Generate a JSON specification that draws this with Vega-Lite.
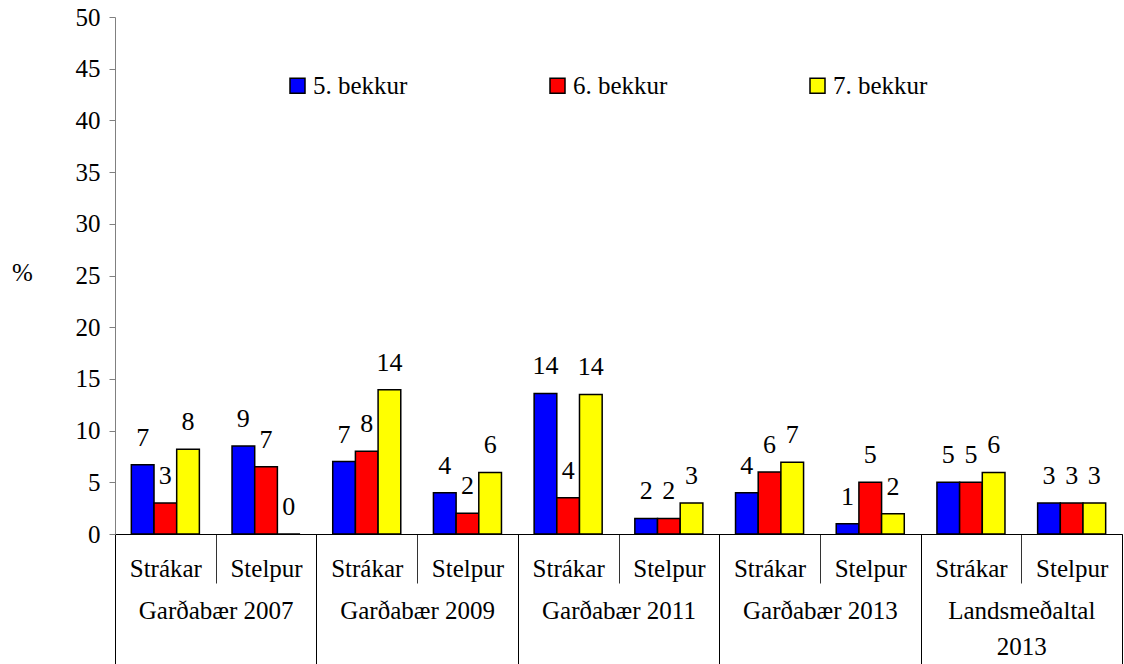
{
  "$schema": "https://vega.github.io/schema/vega-lite/v6.json",
  "width": 1007,
  "height": 517,
  "autosize": "none",
  "padding": {"left": 115, "top": 17, "right": 2, "bottom": 130},
  "background": "white",
  "config": {
    "font": "Times New Roman, Liberation Serif, serif",
    "view": {"stroke": null},
    "text": {"font": "Times New Roman, Liberation Serif, serif"},
    "axis": {"grid": false, "labelFont": "Times New Roman, Liberation Serif, serif", "titleFont": "Times New Roman, Liberation Serif, serif", "labelFontSize": 25, "labelColor": "black", "titleFontSize": 25, "titleFontWeight": "normal", "titleColor": "black"},
    "legend": {"labelFont": "Times New Roman, Liberation Serif, serif"}
  },
  "data": {
    "values": [
      {"group": "Garðabær 2007", "sub": "Strákar", "cat": "Garðabær 2007|Strákar", "grade": "5. bekkur", "value": 6.7, "label": "7"},
      {"group": "Garðabær 2007", "sub": "Strákar", "cat": "Garðabær 2007|Strákar", "grade": "6. bekkur", "value": 3.0, "label": "3"},
      {"group": "Garðabær 2007", "sub": "Strákar", "cat": "Garðabær 2007|Strákar", "grade": "7. bekkur", "value": 8.2, "label": "8"},
      {"group": "Garðabær 2007", "sub": "Stelpur", "cat": "Garðabær 2007|Stelpur", "grade": "5. bekkur", "value": 8.5, "label": "9"},
      {"group": "Garðabær 2007", "sub": "Stelpur", "cat": "Garðabær 2007|Stelpur", "grade": "6. bekkur", "value": 6.5, "label": "7"},
      {"group": "Garðabær 2007", "sub": "Stelpur", "cat": "Garðabær 2007|Stelpur", "grade": "7. bekkur", "value": 0, "label": "0"},
      {"group": "Garðabær 2009", "sub": "Strákar", "cat": "Garðabær 2009|Strákar", "grade": "5. bekkur", "value": 7.0, "label": "7"},
      {"group": "Garðabær 2009", "sub": "Strákar", "cat": "Garðabær 2009|Strákar", "grade": "6. bekkur", "value": 8.0, "label": "8"},
      {"group": "Garðabær 2009", "sub": "Strákar", "cat": "Garðabær 2009|Strákar", "grade": "7. bekkur", "value": 13.95, "label": "14"},
      {"group": "Garðabær 2009", "sub": "Stelpur", "cat": "Garðabær 2009|Stelpur", "grade": "5. bekkur", "value": 4.0, "label": "4"},
      {"group": "Garðabær 2009", "sub": "Stelpur", "cat": "Garðabær 2009|Stelpur", "grade": "6. bekkur", "value": 2.0, "label": "2"},
      {"group": "Garðabær 2009", "sub": "Stelpur", "cat": "Garðabær 2009|Stelpur", "grade": "7. bekkur", "value": 5.95, "label": "6"},
      {"group": "Garðabær 2011", "sub": "Strákar", "cat": "Garðabær 2011|Strákar", "grade": "5. bekkur", "value": 13.6, "label": "14"},
      {"group": "Garðabær 2011", "sub": "Strákar", "cat": "Garðabær 2011|Strákar", "grade": "6. bekkur", "value": 3.5, "label": "4"},
      {"group": "Garðabær 2011", "sub": "Strákar", "cat": "Garðabær 2011|Strákar", "grade": "7. bekkur", "value": 13.5, "label": "14"},
      {"group": "Garðabær 2011", "sub": "Stelpur", "cat": "Garðabær 2011|Stelpur", "grade": "5. bekkur", "value": 1.5, "label": "2"},
      {"group": "Garðabær 2011", "sub": "Stelpur", "cat": "Garðabær 2011|Stelpur", "grade": "6. bekkur", "value": 1.5, "label": "2"},
      {"group": "Garðabær 2011", "sub": "Stelpur", "cat": "Garðabær 2011|Stelpur", "grade": "7. bekkur", "value": 3.0, "label": "3"},
      {"group": "Garðabær 2013", "sub": "Strákar", "cat": "Garðabær 2013|Strákar", "grade": "5. bekkur", "value": 4.0, "label": "4"},
      {"group": "Garðabær 2013", "sub": "Strákar", "cat": "Garðabær 2013|Strákar", "grade": "6. bekkur", "value": 6.0, "label": "6"},
      {"group": "Garðabær 2013", "sub": "Strákar", "cat": "Garðabær 2013|Strákar", "grade": "7. bekkur", "value": 6.95, "label": "7"},
      {"group": "Garðabær 2013", "sub": "Stelpur", "cat": "Garðabær 2013|Stelpur", "grade": "5. bekkur", "value": 1.0, "label": "1"},
      {"group": "Garðabær 2013", "sub": "Stelpur", "cat": "Garðabær 2013|Stelpur", "grade": "6. bekkur", "value": 5.0, "label": "5"},
      {"group": "Garðabær 2013", "sub": "Stelpur", "cat": "Garðabær 2013|Stelpur", "grade": "7. bekkur", "value": 1.95, "label": "2"},
      {"group": "Landsmeðaltal 2013", "sub": "Strákar", "cat": "Landsmeðaltal 2013|Strákar", "grade": "5. bekkur", "value": 5.0, "label": "5"},
      {"group": "Landsmeðaltal 2013", "sub": "Strákar", "cat": "Landsmeðaltal 2013|Strákar", "grade": "6. bekkur", "value": 5.0, "label": "5"},
      {"group": "Landsmeðaltal 2013", "sub": "Strákar", "cat": "Landsmeðaltal 2013|Strákar", "grade": "7. bekkur", "value": 5.95, "label": "6"},
      {"group": "Landsmeðaltal 2013", "sub": "Stelpur", "cat": "Landsmeðaltal 2013|Stelpur", "grade": "5. bekkur", "value": 3.0, "label": "3"},
      {"group": "Landsmeðaltal 2013", "sub": "Stelpur", "cat": "Landsmeðaltal 2013|Stelpur", "grade": "6. bekkur", "value": 3.0, "label": "3"},
      {"group": "Landsmeðaltal 2013", "sub": "Stelpur", "cat": "Landsmeðaltal 2013|Stelpur", "grade": "7. bekkur", "value": 3.0, "label": "3"}
    ]
  },
  "layer": [
    {
      "encoding": {
        "x": {
          "field": "cat", "type": "nominal", "sort": null,
          "scale": {"paddingInner": 0, "paddingOuter": 0},
          "axis": {
            "title": null, "orient": "bottom",
            "labelExpr": "split(datum.value, '|')[1]",
            "labelAngle": 0, "tickBand": "extent", "tickSize": 49, "tickColor": "#333", "tickWidth": 1,
            "domainColor": "black", "domainWidth": 1,
            "labelPadding": -15, "labelBaseline": "middle", "labelAlign": "center"
          }
        },
        "xOffset": {"field": "grade", "type": "nominal", "scale": {"paddingInner": 0, "paddingOuter": 0.72}},
        "y": {
          "field": "value", "type": "quantitative",
          "scale": {"domain": [0, 50], "nice": false},
          "axis": {
            "title": "%", "titleAngle": 0, "titleX": -93, "titleY": 255, "titleAlign": "center", "titleBaseline": "middle",
            "values": [0, 5, 10, 15, 20, 25, 30, 35, 40, 45, 50],
            "tickSize": 6, "tickColor": "#808080", "domainColor": "#808080", "labelPadding": 9
          }
        }
      },
      "layer": [
        {
          "mark": {"type": "bar", "stroke": "black", "strokeWidth": 1.5},
          "encoding": {
            "color": {
              "field": "grade", "type": "nominal",
              "scale": {"domain": ["5. bekkur", "6. bekkur", "7. bekkur"], "range": ["#0000FF", "#FF0000", "#FFFF00"]},
              "legend": {
                "title": null, "orient": "none", "legendX": 170, "legendY": 56, "direction": "horizontal",
                "symbolType": "square", "symbolSize": 225, "symbolStrokeColor": "black", "symbolStrokeWidth": 1.5,
                "labelFontSize": 25, "labelColor": "black", "labelOffset": 3, "columnPadding": 137, "padding": 0
              }
            }
          }
        },
        {
          "mark": {"type": "text", "dy": -27, "fontSize": 26, "baseline": "middle", "color": "black"},
          "encoding": {"text": {"field": "label", "type": "nominal"}}
        }
      ]
    },
    {
      "mark": {"type": "rule", "opacity": 0},
      "encoding": {
        "x": {
          "field": "group", "type": "nominal", "sort": null,
          "scale": {"paddingInner": 0, "paddingOuter": 0},
          "axis": {
            "title": null, "orient": "bottom", "domain": false,
            "labelAngle": 0, "tickBand": "extent", "tickSize": 130, "tickColor": "black", "tickWidth": 1,
            "labelPadding": -66, "labelBaseline": "top", "labelAlign": "center", "labelLineHeight": 36,
            "labelExpr": "datum.value == 'Landsmeðaltal 2013' ? ['Landsmeðaltal', '2013'] : datum.value"
          }
        }
      }
    }
  ],
  "resolve": {"scale": {"x": "independent"}}
}
